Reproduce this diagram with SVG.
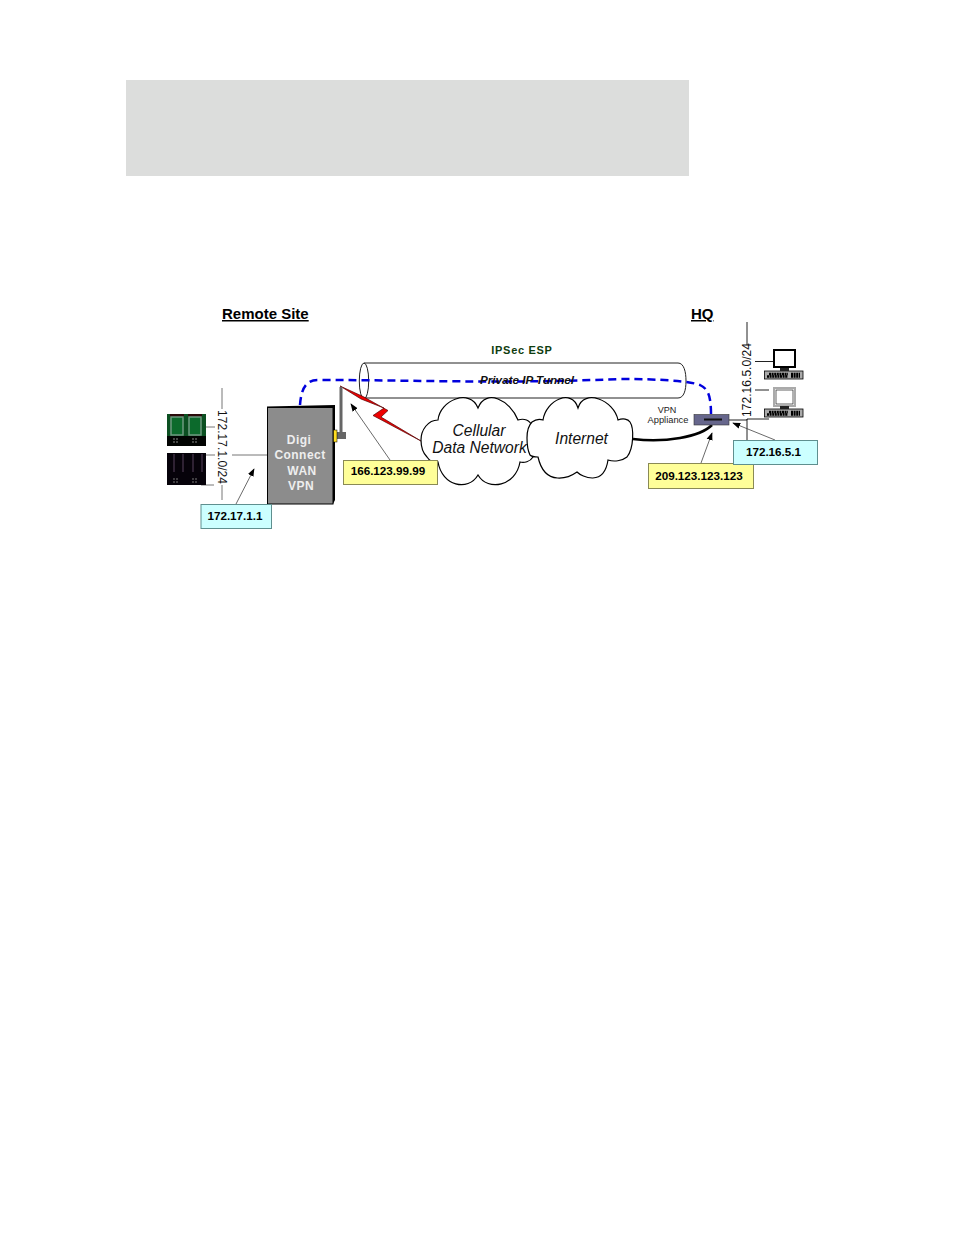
<svg xmlns="http://www.w3.org/2000/svg" width="954" height="1235" viewBox="0 0 954 1235">
<style>
text{font-family:"Liberation Sans",Arial,sans-serif}
.lab{font-size:11.7px;font-weight:bold;fill:#000;text-anchor:middle}
.ttl{font-size:15px;font-weight:bold;fill:#000;text-decoration:underline}
.net{font-size:12px;fill:#111;letter-spacing:.05px}
.cl{font-size:15.6px;font-style:italic;fill:#111;text-anchor:middle}
.dg{font-size:12px;font-weight:bold;fill:#eee;text-anchor:middle;letter-spacing:.45px}
.wire{stroke:#222;stroke-width:1;fill:none}
.gw{stroke:#777;stroke-width:1;fill:none}
.cloud{fill:#fff;stroke:#000;stroke-width:1.2}
.ye{fill:#ffff99;stroke:#8a8a55;stroke-width:1}
.cy{fill:#ccffff;stroke:#5f8f8f;stroke-width:1}
.thin{stroke:#444;stroke-width:.8;fill:none;marker-end:url(#ah)}
</style>
<defs>
<marker id="ah" viewBox="0 0 10 10" refX="9" refY="5" markerWidth="8" markerHeight="8" markerUnits="userSpaceOnUse" orient="auto"><path d="M0,1.200L10,5L0,8.800Z" fill="#000"/></marker>
<g id="kb">
<rect x="0.500" y="21.500" width="38.500" height="8" fill="#aaa" stroke="#000" stroke-width=".8"/>
<path d="M5,24.500H24M27,24.500H36M3,27H24M27,27H36" stroke="#000" stroke-width="2.400" stroke-dasharray="2 .6"/>
<rect x="16" y="18.500" width="9" height="3" fill="#222"/>
</g>
<g id="card-g">
<rect width="39" height="32" fill="#0c5022"/>
<rect y="22" width="39" height="10" fill="#020402"/>
<rect x="3" width="14" height="4" fill="#2a0a0a"/><rect x="21" width="14" height="4" fill="#2a0a0a"/>
<rect x="4" y="3" width="12" height="18" fill="#0c6a2c" stroke="#6e9a80" stroke-width="1.500"/>
<rect x="22" y="3" width="12" height="18" fill="#0c6a2c" stroke="#6e9a80" stroke-width="1.500"/>
<path d="M6,25H12M6,28H11M25,25H31M25,28H30" stroke="#888" stroke-width="1" stroke-dasharray="2 1"/>
</g>
<g id="card-d">
<rect width="39" height="32" fill="#06020a"/>
<path d="M7,1V19M16,1V19M26,1V19M35,1V19" stroke="#3c2c42" stroke-width="1.500"/>
<path d="M6,26H12M6,29H11M25,26H31M25,29H30" stroke="#777" stroke-width="1" stroke-dasharray="2 1"/>
</g>
</defs>
<rect id="banner" x="126" y="80" width="563" height="96" fill="#dcdddc"/>
<text class="ttl" x="222" y="319">Remote Site</text>
<text class="ttl" x="691" y="319">HQ</text>

<g id="tunnel">
<path d="M364,363H678C684,363 686,372 686,381C686,390 684,398 678,398H364" fill="#fff" stroke="#222" stroke-width="1"/>
<ellipse cx="364" cy="381" rx="4.700" ry="18" fill="none" stroke="#222" stroke-width="1"/>
<text x="522" y="354" font-size="11" font-weight="bold" fill="#0f3d0f" text-anchor="middle" letter-spacing=".7">IPSec ESP</text>
</g>

<g id="connectors">
<path class="gw" d="M222,388V409M222,485V500M206,427H215M206,455H215M232,455H267M201,485H214"/>
<path class="wire" d="M747,322V345M747,419V440M755,361.500H773M755,390H769M729,420H747V419H769"/>
<path d="M633,439C665,443 700,437 712,425" fill="none" stroke="#000" stroke-width="2.500"/>
<path d="M300,405C301,392 304,380 318,380C420,380 500,384 620,379C660,379 690,381 700,385C708,389 711,395 711,415" fill="none" stroke="#0000dd" stroke-width="2.500" stroke-dasharray="8 5"/>
<path class="thin" d="M236,504L254,469"/>
<path class="thin" d="M390,460L351,404"/>
<path class="thin" d="M701,463L712,433"/>
<path class="thin" d="M775,440L733,423"/>
</g>

<g id="lightning">
<path d="M340,386L363,396.500L388,410.500L381,417L421,441L373,415.500L384,408L361,399Z" fill="#ee0000" stroke="#550000" stroke-width=".7"/>
</g>

<g id="cellular-cloud">
<path class="cloud" d="M421,440C421,430 428,420 438,420C440,400 470,388 478,408C486,388 510,400 518,420C524,418 530,420 532,426L533,457C530,462 524,463 520,462C516,486 488,492 478,475C468,492 442,486 438,462C432,463 429,460 427,457C423,453 421,447 421,440Z"/>
</g>
<g id="internet-cloud">
<path class="cloud" d="M527,438C527,430 529,425 532,422C536,419 540,419 543,420C546,400 572,388 578,408C584,388 614,400 618,420C623,418 628,419 630,422C634,428 634,448 627,457C622,461 614,462 608,460C604,487 582,477 577,472C570,477 545,488 538,457C535,457 532,457 530,455C528,451 527,445 527,438Z"/>
</g>
<text class="cl" x="479" y="436">Cellular</text>
<text class="cl" x="479.500" y="453">Data Network</text>
<text class="cl" x="581.500" y="444">Internet</text>
<text x="527" y="384" font-size="11.700" font-weight="bold" font-style="italic" fill="#111" text-anchor="middle">Private IP Tunnel</text>

<g id="digi-connect">
<path d="M267,406.500L335,405V500L333,504H267Z" fill="#000"/>
<rect x="267.500" y="407.500" width="65.500" height="96.500" fill="#8c8c8c" stroke="#000" stroke-width="1"/>
<text class="dg" x="299" y="444">Digi</text>
<text class="dg" x="300" y="459">Connect</text>
<text class="dg" x="302" y="475">WAN</text>
<text class="dg" x="301" y="490">VPN</text>
<rect x="339.500" y="387" width="3" height="46" fill="#666"/>
<rect x="337" y="432" width="9" height="7" fill="#666"/>
<rect x="333.500" y="430" width="3.500" height="12" fill="#ffdd22" stroke="#000" stroke-width=".5"/>
</g>

<g id="cards">
<use href="#card-g" x="167" y="414"/>
<use href="#card-d" x="167" y="453"/>
</g>
<text class="net" transform="translate(218,410) rotate(90)">172.17.1.0/24</text>

<g id="vpn-appliance">
<rect x="694" y="414.500" width="35" height="10.500" fill="#66668c" stroke="#333" stroke-width=".6"/>
<path d="M704,419.500H722" stroke="#111" stroke-width="2"/>
<text x="667" y="413" font-size="9" fill="#222" text-anchor="middle">VPN</text>
<text x="668" y="423" font-size="9.300" fill="#222" text-anchor="middle">Appliance</text>
</g>
<g id="pc1">
<rect x="774" y="350" width="21" height="17" fill="#fff" stroke="#000" stroke-width="2"/>
<use href="#kb" x="764" y="349.500"/>
</g>
<g id="pc2">
<rect x="774" y="388" width="21" height="18" fill="#fff" stroke="#aaa" stroke-width="2"/>
<rect x="776" y="390" width="17" height="14" fill="#fff" stroke="#222" stroke-width=".7"/>
<use href="#kb" x="764" y="387.500"/>
</g>
<text class="net" transform="translate(750.500,417) rotate(-90)">172.16.5.0/24</text>

<g id="ip-172-17-1-1"><rect class="cy" x="201" y="504.500" width="70.500" height="24"/><text class="lab" x="235" y="520">172.17.1.1</text></g>
<g id="ip-166"><rect class="ye" x="343.500" y="460.500" width="94" height="24"/><text class="lab" x="388" y="475">166.123.99.99</text></g>
<g id="ip-209"><rect class="ye" x="648.500" y="463.500" width="105" height="25"/><text class="lab" x="699" y="480">209.123.123.123</text></g>
<g id="ip-172-16-5-1"><rect class="cy" x="733.500" y="440.500" width="84" height="24"/><text class="lab" x="773.500" y="456">172.16.5.1</text></g>
</svg>
